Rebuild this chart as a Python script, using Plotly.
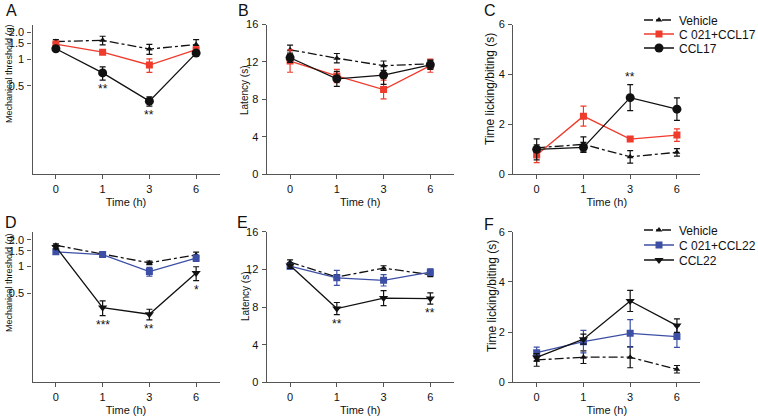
import math
import plotly.graph_objects as go

# ---------------- data ----------------
time_labels = ["0", "1", "3", "6"]
xpos = [0, 1, 2, 3]

# Panel A - Mechanical threshold (g)
A_vehicle = [1.58, 1.63, 1.30, 1.46]
A_vehicle_err = [0.08, 0.18, 0.17, 0.20]
A_c021 = [1.48, 1.20, 0.86, 1.28]
A_c021_err = [0.07, 0.05, 0.15, 0.10]
A_ccl17 = [1.31, 0.70, 0.337, 1.17]
A_ccl17_err = [0.08, 0.12, 0.04, 0.08]
A_sig = ["", "**", "**", ""]

# Panel B - Latency (s)
B_vehicle = [13.3, 12.4, 11.6, 11.8]
B_vehicle_err = [0.5, 0.5, 0.5, 0.4]
B_c021 = [12.1, 10.5, 9.05, 11.6]
B_c021_err = [1.2, 0.7, 1.0, 0.7]
B_ccl17 = [12.45, 10.2, 10.6, 11.7]
B_ccl17_err = [0.5, 0.8, 1.0, 0.5]

# Panel C - Time licking/biting (s)
C_vehicle = [1.06, 1.2, 0.70, 0.88]
C_vehicle_err = [0.12, 0.3, 0.25, 0.15]
C_c021 = [0.77, 2.33, 1.41, 1.57]
C_c021_err = [0.3, 0.4, 0.05, 0.25]
C_ccl17 = [1.0, 1.08, 3.07, 2.61]
C_ccl17_err = [0.42, 0.2, 0.52, 0.45]
C_sig = ["", "", "**", ""]

# Panel D - Mechanical threshold (g)
D_vehicle = [1.73, 1.37, 1.10, 1.35]
D_vehicle_err = [0.06, 0.08, 0.05, 0.1]
D_c021 = [1.46, 1.36, 0.88, 1.24]
D_c021_err = [0.07, 0.07, 0.1, 0.1]
D_ccl22 = [1.66, 0.348, 0.293, 0.845]
D_ccl22_err = [0.08, 0.065, 0.04, 0.15]
D_sig = ["", "***", "**", "*"]

# Panel E - Latency (s)
E_vehicle = [12.76, 11.18, 12.13, 11.43]
E_vehicle_err = [0.25, 0.25, 0.25, 0.2]
E_c021 = [12.34, 11.1, 10.83, 11.7]
E_c021_err = [0.3, 0.8, 0.6, 0.35]
E_ccl22 = [12.4, 7.83, 8.95, 8.9]
E_ccl22_err = [0.3, 0.65, 0.8, 0.6]
E_sig = ["", "**", "", "**"]

# Panel F - Time licking/biting (s)
F_vehicle = [0.89, 1.0, 1.0, 0.52]
F_vehicle_err = [0.25, 0.25, 0.42, 0.15]
F_c021 = [1.18, 1.62, 1.95, 1.82]
F_c021_err = [0.22, 0.45, 0.55, 0.43]
F_ccl22 = [0.99, 1.72, 3.24, 2.26]
F_ccl22_err = [0.15, 0.2, 0.42, 0.27]

# ---------------- style ----------------
RED = "#ef3b2c"
BLUE = "#3c4fa5"
BLACK = "#111111"
AXIS = "#555555"
FONT = "Liberation Sans, Arial, sans-serif"
W, H = 758, 418

def px_x(p):
    return p / W

def px_y(p):
    return 1 - p / H

col_dom = [(32.5, 219.5), (266.7, 453.7), (513.3, 700.3)]
row_dom = [(24.5, 174.3), (231.7, 382.3)]

fig = go.Figure()

def add_series(ax, y, err, name, color, symbol, msize, dash, legend, show):
    fig.add_trace(go.Scatter(
        x=xpos, y=y, name=name, mode="lines+markers",
        xaxis="x" + ("" if ax == "1" else ax), yaxis="y" + ("" if ax == "1" else ax),
        line=dict(color=color, width=1.3, dash=dash),
        marker=dict(symbol=symbol, size=msize, color=color),
        error_y=dict(type="data", array=err, color=color, thickness=1.2, width=3),
        legend=legend, showlegend=show,
    ))

top_names = ["Vehicle", "C 021+CCL17", "CCL17"]
bot_names = ["Vehicle", "C 021+CCL22", "CCL22"]
top_leg = ["legend", "legend2", "legend3"]
bot_leg = ["legend4", "legend5", "legend6"]

panels = [
    ("1", [(A_vehicle, A_vehicle_err, BLACK, "triangle-up", 6, "dashdot"),
           (A_c021, A_c021_err, RED, "square", 7, "solid"),
           (A_ccl17, A_ccl17_err, BLACK, "circle", 9, "solid")], top_names, top_leg, False),
    ("2", [(B_vehicle, B_vehicle_err, BLACK, "triangle-up", 6, "dashdot"),
           (B_c021, B_c021_err, RED, "square", 7, "solid"),
           (B_ccl17, B_ccl17_err, BLACK, "circle", 9, "solid")], top_names, top_leg, False),
    ("3", [(C_vehicle, C_vehicle_err, BLACK, "triangle-up", 6, "dashdot"),
           (C_c021, C_c021_err, RED, "square", 7, "solid"),
           (C_ccl17, C_ccl17_err, BLACK, "circle", 9, "solid")], top_names, top_leg, True),
    ("4", [(D_vehicle, D_vehicle_err, BLACK, "triangle-up", 6, "dashdot"),
           (D_c021, D_c021_err, BLUE, "square", 7, "solid"),
           (D_ccl22, D_ccl22_err, BLACK, "triangle-down", 8, "solid")], bot_names, bot_leg, False),
    ("5", [(E_vehicle, E_vehicle_err, BLACK, "triangle-up", 6, "dashdot"),
           (E_c021, E_c021_err, BLUE, "square", 7, "solid"),
           (E_ccl22, E_ccl22_err, BLACK, "triangle-down", 8, "solid")], bot_names, bot_leg, False),
    ("6", [(F_vehicle, F_vehicle_err, BLACK, "triangle-up", 6, "dashdot"),
           (F_c021, F_c021_err, BLUE, "square", 7, "solid"),
           (F_ccl22, F_ccl22_err, BLACK, "triangle-down", 8, "solid")], bot_names, bot_leg, True),
]

for ax, series, names, legs, show in panels:
    for (y, err, color, sym, ms, dash), name, leg in zip(series, names, legs):
        add_series(ax, y, err, name, color, sym, ms, dash, leg, show)

tickfont = dict(family=FONT, size=11, color="#111")
base_x = dict(range=[-0.5, 3.5], tickvals=xpos, ticktext=time_labels,
              showline=True, linecolor=AXIS, linewidth=1.3, ticks="outside",
              ticklen=4, tickcolor=AXIS, tickwidth=1.2, showgrid=False, zeroline=False,
              tickfont=tickfont,
              title=dict(text="Time (h)", font=dict(family=FONT, size=11, color="#111"), standoff=4))
base_y = dict(showline=True, linecolor=AXIS, linewidth=1.3, ticks="outside",
              ticklen=4, tickcolor=AXIS, tickwidth=1.2, showgrid=False, zeroline=False,
              tickfont=tickfont, ticklabelstandoff=1)

layout = dict(width=W, height=H, margin=dict(l=0, r=0, t=0, b=0, autoexpand=False),
              paper_bgcolor="white", plot_bgcolor="white", showlegend=True,
              font=dict(family=FONT, color="#111"))

for i, (ax, _, _, _, _) in enumerate(panels):
    r, c = divmod(i, 3)
    xd = [px_x(col_dom[c][0]), px_x(col_dom[c][1])]
    yd = [px_y(row_dom[r][1]), px_y(row_dom[r][0])]
    sfx = "" if ax == "1" else ax
    layout["xaxis" + sfx] = dict(base_x, domain=xd, anchor="y" + sfx)
    ydict = dict(base_y, domain=yd, anchor="x" + sfx)
    if c == 0:
        ydict.update(type="log", range=[-1.295, 0.39], tickvals=[0.5, 1, 1.5, 2.0],
                     ticktext=["0.5", "1", "1.5", "2.0"])
    elif c == 1:
        ydict.update(range=[0, 16], tickvals=[0, 4, 8, 12, 16])
    else:
        ydict.update(range=[0, 6], tickvals=[0, 2, 4, 6])
    layout["yaxis" + sfx] = ydict

fig.update_layout(**layout)

legend_style = dict(font=dict(family=FONT, size=12, color="#111"), bgcolor="rgba(0,0,0,0)",
                    itemwidth=30, tracegroupgap=0, xanchor="left", yanchor="middle")
leg_rows_top = [20, 34, 48]
leg_rows_bot = [230, 245, 260]
for leg, ry in zip(top_leg, leg_rows_top):
    fig.update_layout({leg: dict(legend_style, x=px_x(639), y=px_y(ry))})
for leg, ry in zip(bot_leg, leg_rows_bot):
    fig.update_layout({leg: dict(legend_style, x=px_x(639), y=px_y(ry))})

annotations = []
# panel letters
for letter, (lx, ly) in zip("ABCDEF", [(11, 11), (243, 11), (490, 11), (11, 223), (242, 223), (489, 224)]):
    annotations.append(dict(text=letter, x=px_x(lx), y=px_y(ly), xref="paper", yref="paper",
                            xanchor="center", yanchor="middle",
                            showarrow=False, font=dict(family=FONT, size=16, color="#111")))

# y axis titles (text, x px, y px, font size)
ytitles = [("Mechanical threshold (g)", 9, 74, 9), ("Latency (s)", 245, 91, 10),
           ("Time licking/biting (s)", 490, 89, 12),
           ("Mechanical threshold (g)", 9, 283, 9), ("Latency (s)", 245, 297, 10),
           ("Time licking/biting (s)", 492, 296, 12)]
for text, tx, ty, fs in ytitles:
    annotations.append(dict(text=text, x=px_x(tx), y=px_y(ty), xref="paper", yref="paper",
                            xanchor="center", yanchor="middle",
                            textangle=-90, showarrow=False,
                            font=dict(family=FONT, size=fs, color="#111")))

# significance marks
def add_sig(ax, means, errs, sig, above, log=False):
    sfx = "" if ax == "1" else ax
    for xi, m, e, s in zip(xpos, means, errs, sig):
        if not s:
            continue
        yv = m + e if above else m - e
        if log:
            yv = math.log10(yv)
        annotations.append(dict(text=s, x=xi, y=yv, xref="x" + sfx, yref="y" + sfx,
                                xanchor="center", yanchor="middle",
                                showarrow=False, yshift=8 if above else -9,
                                font=dict(family=FONT, size=12, color="#111")))

add_sig("1", A_ccl17, A_ccl17_err, A_sig, False, log=True)
add_sig("3", C_ccl17, C_ccl17_err, C_sig, True)
add_sig("4", D_ccl22, D_ccl22_err, D_sig, False, log=True)
add_sig("5", E_ccl22, E_ccl22_err, E_sig, False)

fig.update_layout(annotations=annotations)
fig.write_html("out.html", config={"displayModeBar": False},
               post_script="document.body.style.margin='0px';")
